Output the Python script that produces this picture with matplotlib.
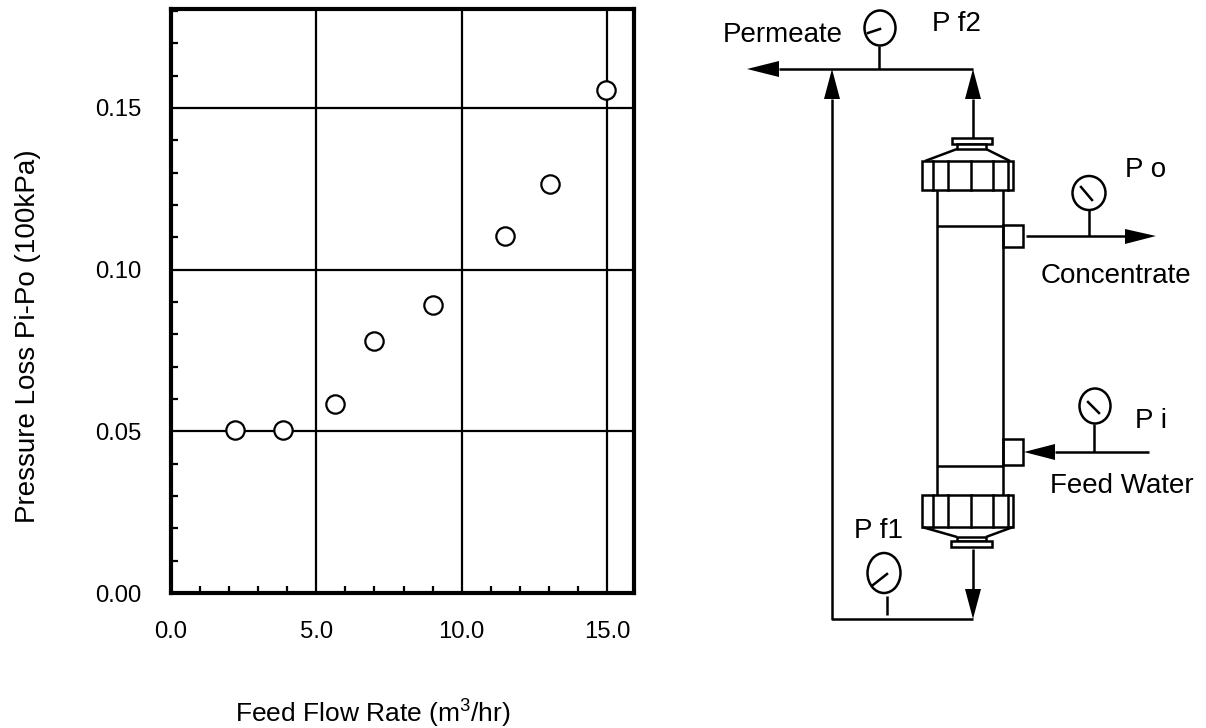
from matplotlib import pyplot as plt
from matplotlib.patches import Ellipse, Polygon, Rectangle
from matplotlib.ticker import MultipleLocator

plt.rcParams['font.family'] = ['Liberation Sans', 'DejaVu Sans']
plt.rcParams['mathtext.default'] = 'regular'

W, H = 1206, 728
LW = 1.8

# measured data
feed_flow = [2.2, 3.85, 5.65, 6.97, 9.03, 11.5, 13.03, 14.95]
pressure_loss = [0.0503, 0.0503, 0.0585, 0.078, 0.089, 0.1105, 0.1265, 0.1555]

x_ticks = [0, 5, 10, 15]
x_labels = ['0.0', '5.0', '10.0', '15.0']
y_ticks = [0, 0.05, 0.10, 0.15]
y_labels = ['0.00', '0.05', '0.10', '0.15']

# schematic, all in image pixels
pipes = [
    [(779, 69), (973, 69)],
    [(832, 99), (832, 619), (973, 619)],
    [(973, 99), (973, 138)],
    [(973, 549), (973, 589)],
    [(1026, 236), (1125, 236)],
    [(1055, 452), (1149, 452)],
    [(937, 190), (937, 495)],
    [(1003, 190), (1003, 495)],
    [(937, 226), (1003, 226)],
    [(937, 466), (1003, 466)],
    [(879, 46), (879, 69)],
    [(1089, 210), (1089, 236)],
    [(1094, 424), (1094, 452)],
    [(887, 596), (887, 615)],
]
arrows = [
    [(747, 69), (779, 61), (779, 77)],
    [(832, 69), (824, 99), (840, 99)],
    [(973, 69), (965, 99), (981, 99)],
    [(973, 619), (965, 589), (981, 589)],
    [(1156, 236), (1125, 229), (1125, 244)],
    [(1024, 452), (1055, 444), (1055, 460)],
]
# cx, cy, width, height, needle start, needle end
gauges = [
    (880, 28, 31, 35, (868, 33), (880, 29)),
    (1089, 193, 33, 34, (1081, 187), (1092, 200)),
    (1095, 406, 31, 35, (1088, 402), (1099, 413)),
    (884, 573, 33, 40, (873, 585), (887, 574)),
]
# x0, y0, x1, y1
boxes = [
    (952, 138, 992, 144),
    (957, 144, 986, 149),
    (922, 161, 1013, 190),
    (1003, 225, 1023, 247),
    (1003, 439, 1023, 465),
    (922, 495, 1013, 527),
    (957, 537, 986, 541),
    (951, 541, 992, 547),
]
nut_lines_x = [933, 948, 971, 993, 1008]
nut_spans = [(161, 190), (495, 527)]
cones = [
    [(957, 149), (925, 161)],
    [(986, 149), (1010, 161)],
    [(922, 527), (957, 537)],
    [(1013, 527), (986, 537)],
]
labels = [
    ('Permeate', 723, 42),
    ('P f2', 932, 31),
    ('P o', 1125, 177),
    ('Concentrate', 1041, 283),
    ('P i', 1135, 428),
    ('Feed Water', 1050, 493),
    ('P f1', 854, 538),
]

fig = plt.figure(figsize=(W / 100, H / 100), dpi=100)

# %% chart
ax = fig.add_axes([171 / W, 1 - 593 / H, 463 / W, 584 / H])
ax.set_xlim(0, 15.93)
ax.set_ylim(0, 0.1806)
ax.grid(True, color='black', lw=1.6)
ax.set_axisbelow(True)
for s in ax.spines.values():
    s.set_linewidth(3)
ax.set_xticks(x_ticks, x_labels)
ax.set_yticks(y_ticks, y_labels)
ax.xaxis.set_minor_locator(MultipleLocator(1))
ax.yaxis.set_minor_locator(MultipleLocator(0.01))
ax.tick_params(which='major', length=0, labelsize=17.2)
ax.tick_params(axis='x', which='major', pad=20)
ax.tick_params(axis='y', which='major', pad=21)
ax.tick_params(which='minor', direction='in', length=5, width=1.6)
ax.plot(feed_flow, pressure_loss, 'o', ms=13.2, mfc='white', mec='black',
        mew=1.6, clip_on=False, zorder=5)
ax.set_xlabel('Feed Flow Rate (m$^3$/hr)', fontsize=19, va='baseline')
ax.xaxis.set_label_coords(0.436, -0.2215)
ax.set_ylabel('Pressure Loss Pi-Po (100kPa)', fontsize=20, va='baseline',
              rotation_mode='anchor')
ax.yaxis.set_label_coords(-0.293, 0.44)

# %% schematic, overlay in pixel coords
ov = fig.add_axes([0, 0, 1, 1])
ov.set_xlim(0, W)
ov.set_ylim(H, 0)
ov.axis('off')
ov.patch.set_alpha(0)

for p in pipes + cones:
    ov.plot(*zip(*p), color='black', lw=LW, solid_capstyle='butt')
for a in arrows:
    ov.add_patch(Polygon(a, closed=True, fc='black', ec='none'))
for cx, cy, w, h, n0, n1 in gauges:
    ov.add_patch(Ellipse((cx, cy), w, h, fc='white', ec='black', lw=LW))
    ov.plot(*zip(n0, n1), color='black', lw=LW)
for x0, y0, x1, y1 in boxes:
    ov.add_patch(Rectangle((x0, y0), x1 - x0, y1 - y0, fc='white', ec='black', lw=LW))
for y0, y1 in nut_spans:
    for x in nut_lines_x:
        ov.plot([x, x], [y0, y1], color='black', lw=LW)
for txt, x, y in labels:
    ov.text(x, y, txt, fontsize=20, ha='left', va='baseline')

fig.savefig('out.png', dpi=100)
